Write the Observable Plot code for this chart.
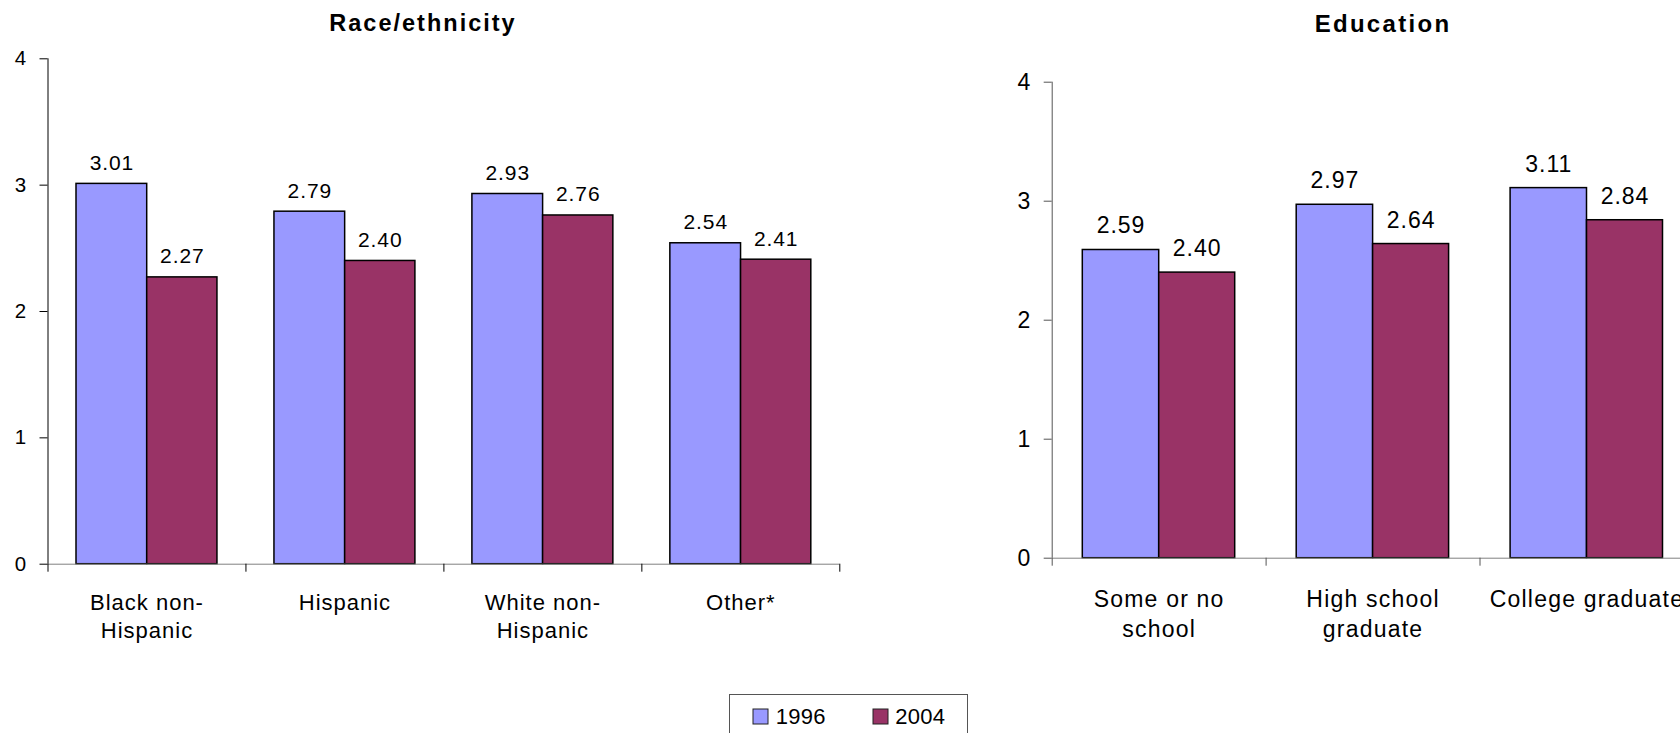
<!DOCTYPE html>
<html><head><meta charset="utf-8">
<script src="https://cdn.jsdelivr.net/npm/d3@7"></script>
<script src="https://cdn.jsdelivr.net/npm/@observablehq/plot@0.6"></script>
<style>
html,body{margin:0;padding:0;background:#fff;}
body{width:1680px;height:733px;overflow:hidden;position:relative;font-family:"Liberation Sans",Arial,sans-serif;}
.panel{position:absolute;top:0;}
.panel svg{max-width:none !important;height:auto;}
.title{position:absolute;font-weight:bold;font-size:23.5px;line-height:23px;letter-spacing:2px;white-space:nowrap;transform:translateX(-50%);color:#000;}
#legendBox{position:absolute;left:728.6px;top:694.3px;width:239.4px;height:60px;box-sizing:border-box;border:1px solid #555;background:#fff;padding:8.6px 0 0 23.7px;}
div.lg-swatches.lg-swatches-wrap{font-family:"Liberation Sans",Arial,sans-serif !important;font-size:22px !important;letter-spacing:0.3px;margin:0 !important;min-height:0 !important;flex-wrap:nowrap !important;color:#000;}
div.lg-swatches .lg-swatch{margin-right:47px !important;}
div.lg-swatches .lg-swatch > svg{margin-right:7.4px !important;}
div.lg-swatches .lg-swatch > svg rect{stroke:#222;stroke-width:1px;}
#left svg text{letter-spacing:0.9px;}
#right svg text{letter-spacing:1px;}
#left svg g[aria-label="x-axis tick label"] text{letter-spacing:1px;}
#right svg g[aria-label="x-axis tick label"] text{letter-spacing:1.2px;}
</style></head>
<body>
<div id="left" class="panel" style="left:0;width:860px"></div>
<div id="right" class="panel" style="left:1000px;width:720px"></div>
<div class="title" style="left:423px;top:12px">Race/ethnicity</div>
<div class="title" style="left:1383px;top:12px;font-size:24px;letter-spacing:2.3px">Education</div>
<div id="legendBox"></div>
<script>
const years = ["1996", "2004"];
const colors = ["#9999FF", "#993366"];
const raceCategories = ["Black non-Hispanic", "Hispanic", "White non-Hispanic", "Other*"];
const raceTickLabels = ["Black non-\nHispanic", "Hispanic", "White non-\nHispanic", "Other*"];
const race1996 = [3.01, 2.79, 2.93, 2.54];
const race2004 = [2.27, 2.40, 2.76, 2.41];
const eduCategories = ["Some or no school", "High school graduate", "College graduate"];
const eduTickLabels = ["Some or no\nschool", "High school\ngraduate", "College graduate"];
const edu1996 = [2.59, 2.97, 3.11];
const edu2004 = [2.40, 2.64, 2.84];
const yTicks = [0, 1, 2, 3, 4];
const yDomain = [0, 4];

const fmt = d3.format(".2f");

function panel(o) {
  const rows = o.cats.flatMap((c, i) => [
    {cat: c, year: years[0], value: o.v1996[i]},
    {cat: c, year: years[1], value: o.v2004[i]}
  ]);
  const r96 = rows.filter(d => d.year === years[0]);
  const r04 = rows.filter(d => d.year === years[1]);
  const band = (o.width - o.mL - o.mR) / o.cats.length;
  const last = o.cats[o.cats.length - 1];
  return Plot.plot({
    width: o.width, height: o.height,
    marginLeft: o.mL, marginRight: o.mR, marginTop: o.mT, marginBottom: o.mB,
    style: {fontFamily: '"Liberation Sans", Arial, sans-serif', fontSize: o.catFont + "px", background: "transparent", overflow: "visible", color: "#000", maxWidth: "none"},
    x: {type: "band", domain: o.cats, padding: 0, round: false},
    y: {domain: yDomain},
    color: {domain: years, range: colors},
    marks: [
      Plot.barY(r96, {x: "cat", y: "value", fill: "year", stroke: "#000", strokeWidth: 1.5, insetLeft: o.in1[0], insetRight: o.in1[1]}),
      Plot.barY(r04, {x: "cat", y: "value", fill: "year", stroke: "#000", strokeWidth: 1.5, insetLeft: o.in2[0], insetRight: o.in2[1]}),
      Plot.text(r96, {x: "cat", y: "value", text: d => fmt(d.value), dx: o.dx1, dy: -o.labelGap, lineAnchor: "bottom", fontSize: o.valueFont}),
      Plot.text(r04, {x: "cat", y: "value", text: d => fmt(d.value), dx: o.dx2, dy: -o.labelGap, lineAnchor: "bottom", fontSize: o.valueFont}),
      Plot.ruleY([0], {stroke: "#808080", strokeWidth: 1}),
      Plot.ruleX([o.cats[0]], {x: d => d, dx: -band / 2, y1: yDomain[0], y2: yDomain[1], stroke: o.axisColor, strokeWidth: 1}),
      Plot.ruleX(o.cats, {x: d => d, dx: -band / 2, y1: 0, y2: 0, insetBottom: -8, stroke: o.axisColor}),
      Plot.ruleX([last], {x: d => d, dx: band / 2, y1: 0, y2: 0, insetBottom: -8, stroke: o.axisColor}),
      Plot.axisY({ticks: yTicks, tickSize: 8, tickFormat: () => "", stroke: o.axisColor, label: null}),
      Plot.text(yTicks, {y: d => d, text: d => String(d), frameAnchor: "left", textAnchor: "end", lineAnchor: "middle", dx: -(8 + o.tickPad), fontSize: o.tickFont}),
      Plot.axisX({tickSize: 0, tickPadding: o.catPad, fontSize: o.catFont, lineHeight: o.catLH, tickFormat: d => o.tickLabels[o.cats.indexOf(d)], label: null})
    ]
  });
}

document.getElementById("left").append(panel({
  cats: raceCategories, tickLabels: raceTickLabels, v1996: race1996, v2004: race2004,
  width: 860, height: 650, mL: 47.5, mR: 20.7, mT: 58.3, mB: 86.3,
  in1: [28.5, 98.75], in2: [99.2, 28.5], dx1: -35.1, dx2: 35.35, labelGap: 14,
  valueFont: 21, catFont: 22, catPad: 25.7, catLH: 1.286, tickFont: 20.5, tickPad: 13, axisColor: "#000"
}));

document.getElementById("right").append(panel({
  cats: eduCategories, tickLabels: eduTickLabels, v1996: edu1996, v2004: edu2004,
  width: 720, height: 650, mL: 51.7, mR: 26.6, mT: 81.7, mB: 92.3,
  in1: [30.6, 106.9], in2: [107, 30.9], dx1: -38.15, dx2: 38.05, labelGap: 16.5,
  valueFont: 23, catFont: 23, catPad: 27.7, catLH: 1.3, tickFont: 23, tickPad: 13, axisColor: "#555"
}));

document.getElementById("legendBox").append(Plot.legend({
  color: {type: "ordinal", domain: years, range: colors},
  legend: "swatches", className: "lg", swatchSize: 15
}));
</script>
</body></html>
